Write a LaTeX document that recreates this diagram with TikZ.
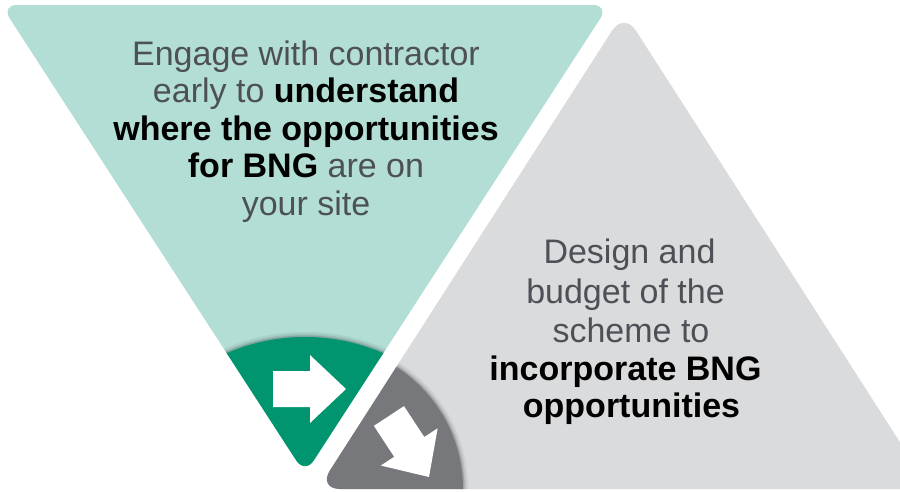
\documentclass[tikz,border=0pt]{standalone}
\usepackage{fontspec}
\setmainfont{Liberation Sans}
\definecolor{lightteal}{HTML}{B2DED5}
\definecolor{darkgreen}{HTML}{00956F}
\definecolor{lightgrey}{HTML}{DADBDC}
\definecolor{darkgrey}{HTML}{77787B}
\definecolor{textgrey}{HTML}{4D5157}
\begin{document}
\begin{tikzpicture}[x=1pt,y=-1pt,
  txt/.style={anchor=base,inner sep=0pt,font=\fontsize{34}{40}\selectfont,text=textgrey},
  shadeA/.style={black,opacity=.06,line width=10pt},
  shadeB/.style={black,opacity=.08,line width=6pt},
  shadeC/.style={black,opacity=.14,line width=3pt}]
\useasboundingbox (0,0) rectangle (900,491);
% left (inverted) triangle
\coordinate (LA) at (1,5);
\coordinate (LB) at (609,5);
\coordinate (LC) at (305,474);
\fill[lightteal, rounded corners=16pt] (LA) -- (LB) -- (LC) -- cycle;
\begin{scope}
  \clip[rounded corners=16pt] (LA) -- (LB) -- (LC) -- cycle;
  \coordinate (GC) at (305,534);
  \draw[shadeA] (GC) circle[radius=197];
  \draw[shadeB] (GC) circle[radius=197];
  \draw[shadeC] (GC) circle[radius=197];
  \fill[darkgreen] (GC) circle[radius=197];
\end{scope}
% right (upright) triangle
\coordinate (RA) at (624,12);
\coordinate (RB) at (930,489);
\coordinate (RC) at (318,489);
\fill[lightgrey, rounded corners=22pt] (RA) -- (RB) -- (RC) -- cycle;
\begin{scope}
  \clip[rounded corners=22pt] (RA) -- (RB) -- (RC) -- cycle;
  \draw[shadeA] (RC) circle[radius=145];
  \draw[shadeB] (RC) circle[radius=145];
  \draw[shadeC] (RC) circle[radius=145];
  \fill[darkgrey] (RC) circle[radius=145];
\end{scope}
% arrows
\fill[white] (273,371) -- (310,371) -- (310,355) -- (346,389) -- (310,423) -- (310,407) -- (273,407) -- cycle;
\begin{scope}[shift={(429,477)}, rotate=-56.7]
  \fill[white] (-73,-18) -- (-36,-18) -- (-36,-34) -- (0,0) -- (-36,34) -- (-36,18) -- (-73,18) -- cycle;
\end{scope}
% left text
\node[txt] (l1) at (306,65) {Engage with contractor};
\node[txt] (l2) at (306,102) {early to \textbf{\color{black}understand}};
\node[txt,text=black] (l3) at (306,140) {\textbf{where the opportunities}};
\node[txt] (l4) at (306,177) {\textbf{\color{black}for BNG} are on};
\node[txt] (l5) at (306,215) {your site};
% right text
\node[txt] (r1) at (629.5,263) {Design and};
\node[txt] (r2) at (625.5,303) {budget of the};
\node[txt] (r3) at (631,342) {scheme to};
\node[txt,text=black] (r4) at (625.5,380) {\textbf{incorporate BNG}};
\node[txt,text=black] (r5) at (631.5,417) {\textbf{opportunities}};
\end{tikzpicture}
\end{document}
